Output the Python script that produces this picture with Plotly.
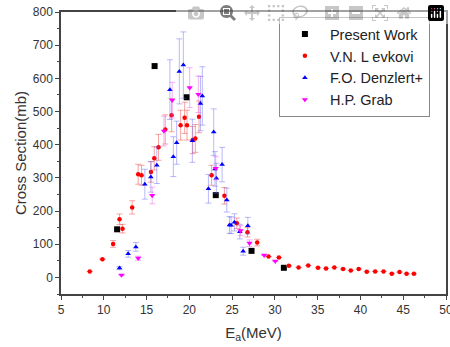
import plotly.graph_objects as go

# Present Work
pw_x = [11.56, 15.94, 19.69, 23.09, 27.27, 31.05]
pw_y = [145, 637, 543, 248, 80, 29]

# V.N. Levkovi
lev_x = [8.36, 9.84, 11.09, 11.84, 12.19, 13.32, 14.02, 14.41, 15.51, 15.9, 16.4, 17.19,
         17.93, 18.98, 19.45, 19.73, 20.39, 20.7, 21.13, 22.6, 24.1, 25.55, 26.8, 27.93,
         29.26, 30.47, 31.64, 32.77, 33.9, 35.04, 35.98, 36.95, 37.97, 38.87, 39.8, 40.74,
         41.72, 42.7, 43.67, 44.57, 45.39, 46.25]
lev_y = [18, 55, 101, 175, 147, 211, 311, 308, 318, 359, 392, 446,
         489, 459, 481, 459, 414, 419, 484, 308, 246, 163, 136, 105,
         63, 60, 35, 30, 36, 29, 27, 30, 25, 21, 25, 17,
         18, 18, 11, 16, 11, 11]
lev_err = [0, 0, 10, 16, 13, 20, 30, 30, 31, 35, 39, 44,
           50, 45, 47, 45, 41, 42, 48, 30, 25, 16, 14, 10,
           0, 0, 0, 0, 0, 0, 0, 0, 0, 0, 0, 0,
           0, 0, 0, 0, 0, 0]

# F.O. Denzlert+
den_x = [11.84, 12.85, 13.75, 14.8, 15.5, 16.2, 17.73, 18.13, 18.52, 18.83, 19.3, 20.35,
         21.3, 21.52, 22.23, 22.85, 23.0, 23.16, 23.83, 24.38, 24.69, 24.88, 25.27, 25.9,
         26.29, 26.84]
den_y = [28, 71, 92, 281, 303, 338, 566, 364, 406, 621, 640, 412,
         524, 547, 267, 438, 327, 299, 340, 233, 158, 157, 166, 138,
         79, 156]
den_err = [5, 10, 13, 45, 46, 55, 90, 60, 65, 98, 100, 65,
           82, 88, 43, 70, 52, 45, 52, 36, 25, 25, 26, 22,
           12, 25]

# H.P. Grab
grab_x = [12.07, 14.02, 15.66, 17.03, 18.0, 20.04, 21.05, 23.09, 25.98, 27.03, 28.75, 30.04]
grab_y = [7, 58, 247, 441, 534, 572, 552, 329, 141, 103, 67, 49]
grab_err = [0, 6, 25, 45, 54, 60, 55, 35, 15, 10, 0, 0]

x_ticks = [5, 10, 15, 20, 25, 30, 35, 40, 45, 50]
y_ticks = [0, 100, 200, 300, 400, 500, 600, 700, 800]

fig = go.Figure()

fig.add_trace(go.Scatter(
    x=pw_x, y=pw_y, mode="markers", name="Present Work",
    marker=dict(symbol="square", size=6, color="black")))

fig.add_trace(go.Scatter(
    x=lev_x, y=lev_y, mode="markers", name="V.N. L evkovi",
    marker=dict(symbol="circle", size=4.5, color="#ff0000"),
    error_y=dict(type="data", array=lev_err, visible=True,
                 color="rgba(240,90,90,0.55)", thickness=1, width=3)))

fig.add_trace(go.Scatter(
    x=den_x, y=den_y, mode="markers", name="F.O. Denzlert+",
    marker=dict(symbol="triangle-up", size=5, color="#0000ff"),
    error_y=dict(type="data", array=den_err, visible=True,
                 color="rgba(100,100,240,0.45)", thickness=1, width=3)))

fig.add_trace(go.Scatter(
    x=grab_x, y=grab_y, mode="markers", name="H.P. Grab",
    marker=dict(symbol="triangle-down", size=5.5, color="#ff00ff"),
    error_y=dict(type="data", array=grab_err, visible=True,
                 color="rgba(240,100,240,0.5)", thickness=1, width=3)))

axis_common = dict(
    showline=True, linecolor="#444", linewidth=1.5, mirror=True,
    ticks="outside", ticklen=4, tickwidth=1, tickcolor="#444",
    showgrid=False, zeroline=False, automargin=False,
    tickfont=dict(size=12, color="#333"),
    ticklabeloverflow="allow",
)

fig.update_xaxes(range=[5, 50], tickmode="array", tickvals=x_ticks,
                 minor=dict(ticks="outside", dtick=2.5, tick0=5, ticklen=2.5, tickcolor="#444"),
                 title=dict(text="E<sub>a</sub>(MeV)", font=dict(size=15, color="#333"), standoff=11),
                 **axis_common)
fig.update_yaxes(range=[-50, 800], tickmode="array", tickvals=y_ticks,
                 minor=dict(ticks="outside", dtick=50, tick0=0, ticklen=2.5, tickcolor="#444"),
                 title=dict(text="Cross Section(mb)", font=dict(size=15, color="#333"), standoff=3),
                 **axis_common)

fig.update_layout(
    width=450, height=347,
    margin=dict(l=61, r=4, t=12, b=53),
    paper_bgcolor="white", plot_bgcolor="white",
    font=dict(family="Liberation Sans, Arial, sans-serif", color="#222"),
    legend=dict(x=0.566, y=0.982, xanchor="left", yanchor="top",
                bordercolor="#888", borderwidth=1, bgcolor="white",
                font=dict(size=14.5, color="#222"), itemsizing="trace",
                itemwidth=40, tracegroupgap=0),
    showlegend=True,
)

# remove the default 8px page margin so the figure fills the window exactly
fig.write_html("out.html", post_script="document.body.style.margin='0';")
